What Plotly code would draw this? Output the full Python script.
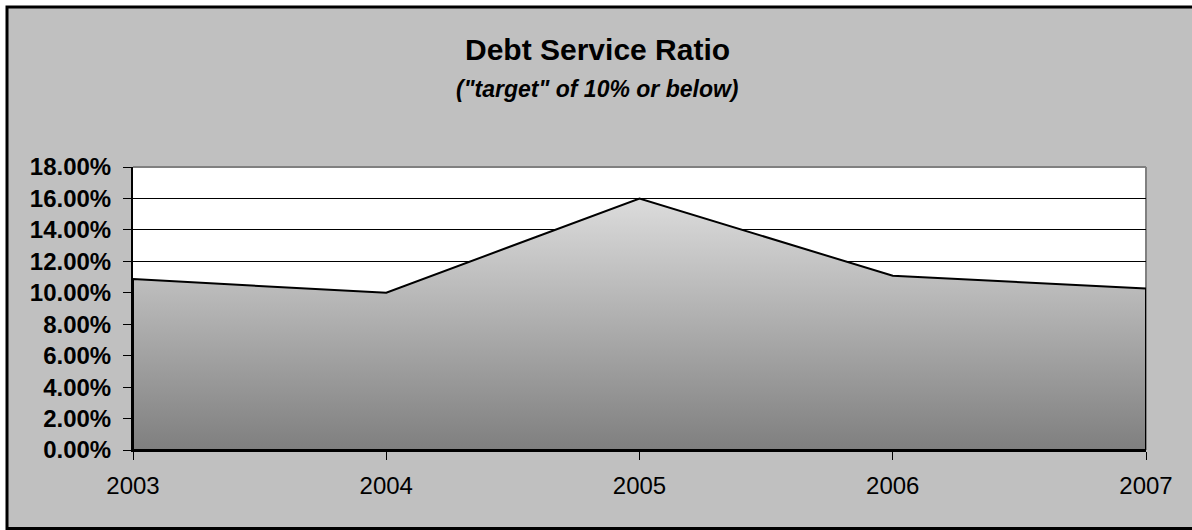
import plotly.graph_objects as go

years = [2003, 2004, 2005, 2006, 2007]
ratios = [0.1087, 0.1000, 0.1600, 0.1108, 0.1027]
y_ticks = [0, 0.02, 0.04, 0.06, 0.08, 0.10, 0.12, 0.14, 0.16, 0.18]
title_text = "<b>Debt Service Ratio</b>"
subtitle_text = "<b><i>(\"target\" of 10% or below)</i></b>"

W, H = 1192, 530
L, R, T, B = 133, 46, 167, 80
pw, ph = W - L - R, H - T - B

def px_x(p):
    return (p - L) / pw

def px_y(p):
    return (H - B - p) / ph

# closed outline polygon built from the data
poly_x = years + [years[-1], years[0], years[0]]
poly_y = ratios + [0, 0, ratios[0]]

fig = go.Figure()
fig.add_trace(go.Scatter(
    x=poly_x, y=poly_y, mode="lines", fill="toself",
    line=dict(color="black", width=2),
    fillcolor="#b0b0b0",
    fillgradient=dict(type="vertical",
                      colorscale=[[0, "#7f7f7f"], [1, "#dcdcdc"]]),
    hoverinfo="skip", showlegend=False,
))

xl, xr, yt, yb = px_x(7), px_x(1192), px_y(7), px_y(528.5)
border_path = f"M {xr},{yt} L {xl},{yt} L {xl},{yb} L {xr},{yb}"

fig.update_layout(
    width=W, height=H,
    margin=dict(l=L, r=R, t=T, b=B, pad=0),
    paper_bgcolor="white",
    plot_bgcolor="rgba(0,0,0,0)",
    font=dict(family="Liberation Sans, Arial, sans-serif", color="black"),
    showlegend=False,
    xaxis=dict(
        range=[years[0], years[-1]], tickvals=years, ticktext=[str(y) for y in years],
        showgrid=False, zeroline=False, showline=True, linecolor="black", linewidth=2,
        ticks="outside", ticklen=8, tickcolor="black", tickwidth=1,
        tickfont=dict(size=24), ticklabelstandoff=5,
    ),
    yaxis=dict(
        range=[0, 0.18], tickvals=y_ticks, tickformat=".2%",
        showgrid=True, gridcolor="black", gridwidth=1, zeroline=False,
        showline=True, linecolor="black", linewidth=2,
        ticks="outside", ticklen=8, tickcolor="black", tickwidth=1,
        tickfont=dict(size=24, family="Liberation Sans, Arial, sans-serif"),
        ticklabelstandoff=7,
    ),
    shapes=[
        dict(type="rect", xref="paper", yref="paper", layer="below",
             x0=xl, x1=px_x(1200), y0=yt, y1=yb,
             fillcolor="#c0c0c0", line=dict(width=0)),
        dict(type="path", xref="paper", yref="paper", layer="below",
             path=border_path, line=dict(color="black", width=3)),
        dict(type="rect", xref="paper", yref="paper", layer="below",
             x0=0, x1=1, y0=0, y1=1, fillcolor="white", line=dict(width=0)),
        dict(type="line", xref="paper", yref="paper", layer="below",
             x0=1, x1=1, y0=0, y1=1, line=dict(color="#808080", width=2)),
        dict(type="line", xref="paper", yref="paper", layer="above",
             x0=0, x1=1, y0=1, y1=1, line=dict(color="#808080", width=2)),
    ],
    annotations=[
        dict(text=title_text, xref="paper", yref="paper", x=px_x(597), y=px_y(50),
             xanchor="center", yanchor="middle", showarrow=False,
             font=dict(size=30)),
        dict(text=subtitle_text, xref="paper", yref="paper", x=px_x(597), y=px_y(89),
             xanchor="center", yanchor="middle", showarrow=False,
             font=dict(size=23)),
    ],
)
fig.update_yaxes(tickfont=dict(weight="bold"))

fig.write_html("out.html")
